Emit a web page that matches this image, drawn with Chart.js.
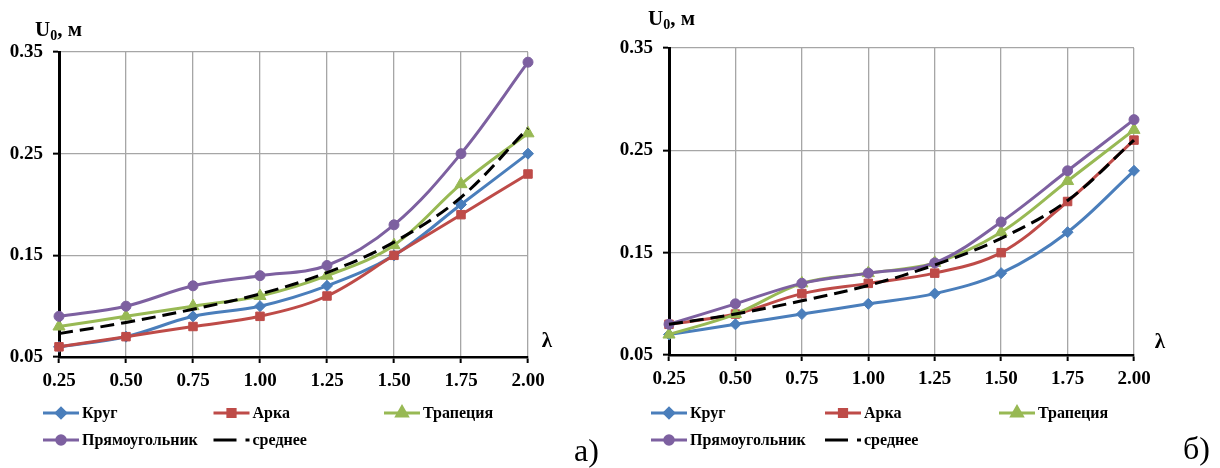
<!DOCTYPE html>
<html>
<head>
<meta charset="utf-8">
<script src="https://cdn.jsdelivr.net/npm/chart.js@4.4.1/dist/chart.umd.min.js"></script>
<style>
    html, body { margin: 0; padding: 0; background: #fff; }
    .panel { position: absolute; top: 0; width: 610px; height: 468px; }
    #panel-a { left: 0; }
    #panel-b { left: 610px; }
</style>
</head>
<body>
<div class="panel" id="panel-a"><canvas id="chart-a" width="610" height="468"></canvas></div>
<div class="panel" id="panel-b"><canvas id="chart-b" width="610" height="468"></canvas></div>
<script>
// λ values along the x axis
const lambdaLabels = ['0.25', '0.50', '0.75', '1.00', '1.25', '1.50', '1.75', '2.00'];
const seriesNames = ['Круг', 'Арка', 'Трапеция', 'Прямоугольник', 'среднее'];

// panel а)
const krugA  = [0.06, 0.07, 0.09, 0.10, 0.12, 0.15, 0.20, 0.25];
const arkaA  = [0.06, 0.07, 0.08, 0.09, 0.11, 0.15, 0.19, 0.23];
const trapA  = [0.08, 0.09, 0.10, 0.11, 0.13, 0.16, 0.22, 0.27];
const pryamA = [0.09, 0.10, 0.12, 0.13, 0.14, 0.18, 0.25, 0.34];
const srednA = [0.073, 0.084, 0.097, 0.112, 0.133, 0.163, 0.207, 0.275];

// panel б)
const krugB  = [0.07, 0.08, 0.09, 0.10, 0.11, 0.13, 0.17, 0.23];
const arkaB  = [0.08, 0.09, 0.11, 0.12, 0.13, 0.15, 0.20, 0.26];
const trapB  = [0.07, 0.09, 0.12, 0.13, 0.14, 0.17, 0.22, 0.27];
const pryamB = [0.08, 0.10, 0.12, 0.13, 0.14, 0.18, 0.23, 0.28];
const srednB = [0.080, 0.090, 0.103, 0.118, 0.138, 0.164, 0.201, 0.260];

const SERIF = '"Liberation Serif", "Times New Roman", serif';
const GRID = '#a6a6a6';

const styles = [
    { color: '#4A7EBB', pointStyle: 'rectRot', pointRadius: 5.5 },
    { color: '#BE4B48', pointStyle: 'rect', pointRadius: 6 },
    { color: '#98B954', pointStyle: 'triangle', pointRadius: 7 },
    { color: '#7D60A0', pointStyle: 'circle', pointRadius: 5 },
    { color: '#000000', pointStyle: false, pointRadius: 0, dash: [14, 7] }
];

function makeDatasets(seriesList) {
    return seriesList.map((values, i) => {
        const s = styles[i];
        return {
            label: seriesNames[i],
            data: values,
            borderColor: s.color,
            backgroundColor: s.color,
            borderWidth: 3,
            borderDash: s.dash || [],
            pointStyle: s.pointStyle,
            pointRadius: s.pointRadius,
            pointBorderWidth: 1,
            pointBorderColor: s.color,
            tension: 0.35,
            order: seriesList.length - i
        };
    });
}

// axis caption, λ, legend grid and panel letter
const overlayText = {
    id: 'overlayText',
    afterDraw(chart, args, opts) {
        const { ctx, chartArea } = chart;
        ctx.save();
        ctx.fillStyle = '#000';
        ctx.textBaseline = 'alphabetic';
        ctx.textAlign = 'left';

        let x = chartArea.left + opts.unitDx;
        const y = chartArea.top + opts.unitDy;
        ctx.font = 'bold 21px ' + SERIF;
        ctx.fillText('U', x, y);
        x += ctx.measureText('U').width;
        ctx.font = 'bold 14px ' + SERIF;
        ctx.fillText('0', x, y + 4);
        x += ctx.measureText('0').width;
        ctx.font = 'bold 21px ' + SERIF;
        ctx.fillText(', м', x, y);

        ctx.textAlign = 'center';
        ctx.textBaseline = 'middle';
        ctx.fillText('λ', chartArea.right + opts.lambdaDx, chartArea.bottom + opts.lambdaDy);

        // legend in three columns
        ctx.textAlign = 'left';
        ctx.font = 'bold 16px ' + SERIF;
        chart.data.datasets.forEach((ds, i) => {
            const col = i % 3, row = Math.floor(i / 3);
            const lx = opts.legendX + col * opts.legendStep;
            const ly = opts.legendY + row * opts.legendRow;
            ctx.strokeStyle = ds.borderColor;
            ctx.lineWidth = 3;
            ctx.setLineDash(ds.borderDash.length ? [23, 9] : []);
            ctx.beginPath();
            ctx.moveTo(lx, ly);
            ctx.lineTo(lx + 36, ly);
            ctx.stroke();
            ctx.setLineDash([]);
            if (ds.pointStyle) {
                ctx.fillStyle = ds.backgroundColor;
                Chart.helpers.drawPoint(ctx, {
                    pointStyle: ds.pointStyle,
                    radius: ds.pointRadius * 0.85,
                    rotation: 0,
                    borderWidth: 1
                }, lx + 18, ly);
            }
            ctx.fillStyle = '#000';
            ctx.fillText(ds.label, lx + 39, ly + 1);
        });

        ctx.font = '32px ' + SERIF;
        ctx.textBaseline = 'alphabetic';
        ctx.fillText(opts.letter, opts.letterX, opts.letterY);
        ctx.restore();
    }
};

function makeChart(canvasId, seriesList, pad, overlay) {
    const tickFont = { family: SERIF, size: 19, weight: 'bold' };
    return new Chart(document.getElementById(canvasId), {
        type: 'line',
        data: { labels: lambdaLabels, datasets: makeDatasets(seriesList) },
        options: {
            responsive: false,
            animation: false,
            devicePixelRatio: 1,
            layout: { padding: pad },
            plugins: {
                legend: { display: false },
                tooltip: { enabled: false },
                overlayText: overlay
            },
            scales: {
                x: {
                    type: 'category',
                    offset: false,
                    grid: { color: GRID, lineWidth: 1.3, tickColor: '#000', tickLength: 6, tickWidth: 2 },
                    border: { color: '#000', width: 2.5 },
                    ticks: { color: '#000', font: tickFont, padding: 7, maxRotation: 0, autoSkip: false },
                    afterFit(scale) { scale.height = 40; }
                },
                y: {
                    min: 0.05,
                    max: 0.35,
                    grid: { color: GRID, lineWidth: 1.3, tickColor: '#000', tickLength: 6, tickWidth: 2 },
                    border: { color: '#000', width: 3 },
                    ticks: {
                        stepSize: 0.1,
                        color: '#000',
                        font: tickFont,
                        padding: 10,
                        callback: v => v.toFixed(2)
                    },
                    afterFit(scale) { scale.width = 59; }
                }
            }
        },
        plugins: [overlayText]
    });
}

makeChart('chart-a', [krugA, arkaA, trapA, pryamA, srednA],
    { left: 0, top: 52, right: 82, bottom: 71 },
    { unitDx: -24, unitDy: -16, lambdaDx: 19, lambdaDy: -15,
      legendX: 43, legendStep: 170.5, legendY: 413, legendRow: 27,
      letter: 'а)', letterX: 574, letterY: 461 });

makeChart('chart-b', [krugB, arkaB, trapB, pryamB, srednB],
    { left: 0, top: 48, right: 86, bottom: 73 },
    { unitDx: -21, unitDy: -23, lambdaDx: 26, lambdaDy: -12,
      legendX: 41, legendStep: 174, legendY: 413, legendRow: 27,
      letter: 'б)', letterX: 573, letterY: 459 });
</script>
</body>
</html>
